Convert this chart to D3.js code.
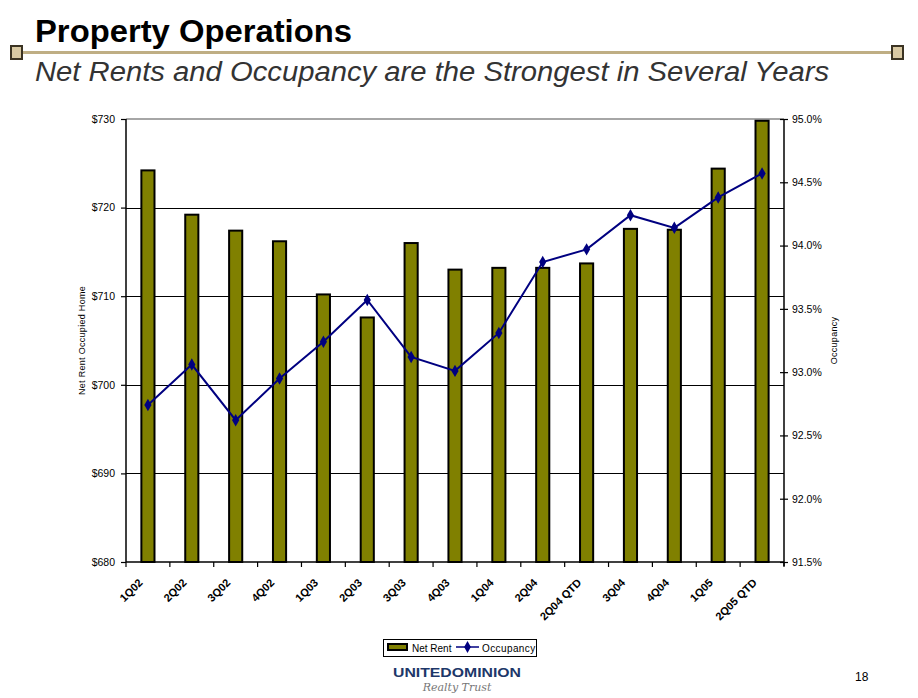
<!DOCTYPE html>
<html>
<head>
<meta charset="utf-8">
<script src="https://cdn.jsdelivr.net/npm/d3@7"></script>
<style>
  html, body { margin: 0; padding: 0; background: #fff; }
  svg { display: block; font-family: "Liberation Sans", Arial, sans-serif; }
</style>
</head>
<body>
<svg id="chart" width="918" height="698"></svg>
<script>
const categories = ["1Q02","2Q02","3Q02","4Q02","1Q03","2Q03","3Q03","4Q03","1Q04","2Q04","2Q04 QTD","3Q04","4Q04","1Q05","2Q05 QTD"];
const netRent = [724.2, 719.2, 717.4, 716.2, 710.2, 707.6, 716.0, 713.0, 713.2, 713.2, 713.7, 717.6, 717.5, 724.4, 729.8];
const occupancy = [92.74, 93.06, 92.62, 92.95, 93.24, 93.57, 93.12, 93.01, 93.31, 93.87, 93.97, 94.24, 94.14, 94.38, 94.57];
const leftTicks = [680, 690, 700, 710, 720, 730];
const rightTicks = [91.5, 92.0, 92.5, 93.0, 93.5, 94.0, 94.5, 95.0];

const svg = d3.select("#chart");
const L = 126, R = 784, T = 119, B = 562;
const olive = "#808000", navy = "#000080";

// Header
svg.append("line").attr("x1", 12).attr("x2", 904).attr("y1", 52.5).attr("y2", 52.5)
  .attr("stroke", "#bfae84").attr("stroke-width", 3);
[[11, 46], [892, 46]].forEach(([sx, sy]) => {
  svg.append("rect").attr("x", sx).attr("y", sy).attr("width", 11).attr("height", 13)
    .attr("fill", "#d9c9a3").attr("stroke", "#3b3323").attr("stroke-width", 2);
});
svg.append("text").attr("x", 35).attr("y", 42).attr("font-size", 32).attr("font-weight", "bold")
  .attr("fill", "#000").attr("textLength", 317).attr("lengthAdjust", "spacingAndGlyphs")
  .text("Property Operations");
svg.append("text").attr("x", 35).attr("y", 81).attr("font-size", 27).attr("font-style", "italic")
  .attr("fill", "#333").attr("textLength", 794).attr("lengthAdjust", "spacingAndGlyphs")
  .text("Net Rents and Occupancy are the Strongest in Several Years");

// Scales
const x = d3.scaleBand().domain(categories).range([L, R]).paddingInner(0).paddingOuter(0);
const yL = d3.scaleLinear().domain([680, 730]).range([B, T]);
const yR = d3.scaleLinear().domain([91.5, 95.0]).range([B, T]);

// Gridlines
svg.append("g").selectAll("line").data(leftTicks.filter(d => d > 680 && d < 730)).join("line")
  .attr("x1", L).attr("x2", R).attr("y1", d => Math.round(yL(d)) + 0.5).attr("y2", d => Math.round(yL(d)) + 0.5)
  .attr("stroke", "#000").attr("stroke-width", 1.2);
svg.append("line").attr("x1", L).attr("x2", R).attr("y1", yL(730)).attr("y2", yL(730))
  .attr("stroke", "#888").attr("stroke-width", 1.5);

// Bars
const bw = x.bandwidth() / 3;
svg.append("g").selectAll("rect").data(categories).join("rect")
  .attr("x", (d) => x(d) + x.bandwidth() / 2 - (bw - 1.5) / 2)
  .attr("y", (d, i) => yL(netRent[i]))
  .attr("width", bw - 1.5)
  .attr("height", (d, i) => yL(680) - yL(netRent[i]))
  .attr("fill", olive).attr("stroke", "#000").attr("stroke-width", 2);

// Axis lines
svg.append("line").attr("x1", L).attr("x2", L).attr("y1", T).attr("y2", B).attr("stroke", "#000").attr("stroke-width", 1.5);
svg.append("line").attr("x1", R).attr("x2", R).attr("y1", T).attr("y2", B + 4).attr("stroke", "#000").attr("stroke-width", 1.5);
svg.append("line").attr("x1", L).attr("x2", R).attr("y1", B).attr("y2", B).attr("stroke", "#000").attr("stroke-width", 1.5);

// Left axis
const gl = svg.append("g").attr("transform", `translate(${L},0)`)
  .call(d3.axisLeft(yL).tickValues(leftTicks).tickSize(5).tickPadding(6).tickFormat(d => "$" + d));
gl.select(".domain").remove();
gl.selectAll("line").attr("stroke", "#000").attr("stroke-width", 1.2);
gl.selectAll("text").attr("font-size", 10.5).attr("font-family", "Liberation Sans, Arial, sans-serif").attr("fill", "#000");

// Right axis
const gr = svg.append("g").attr("transform", `translate(${R},0)`)
  .call(d3.axisRight(yR).tickValues(rightTicks).tickSize(4).tickPadding(4).tickFormat(d => d.toFixed(1) + "%"));
gr.select(".domain").remove();
gr.selectAll("line").attr("x1", -4).attr("x2", 4).attr("stroke", "#000").attr("stroke-width", 1.2);
gr.selectAll("text").attr("font-size", 10.5).attr("font-family", "Liberation Sans, Arial, sans-serif").attr("fill", "#000");

// Bottom ticks
const boundaries = categories.map(d => x(d)).concat([R]);
svg.append("g").selectAll("line").data(boundaries).join("line")
  .attr("x1", d => d).attr("x2", d => d).attr("y1", B).attr("y2", B + 5)
  .attr("stroke", "#000").attr("stroke-width", 1.2);

// X labels
svg.append("g").selectAll("text").data(categories).join("text")
  .attr("transform", d => `translate(${x(d) + x.bandwidth() / 2 - 10},${B + 16}) rotate(-45)`)
  .attr("text-anchor", "end").attr("dy", "0.7em")
  .attr("font-size", 11).attr("font-weight", "bold").attr("fill", "#000")
  .text(d => d);

// Occupancy line
const line = d3.line().x((d, i) => x(categories[i]) + x.bandwidth() / 2).y(d => yR(d));
svg.append("path").datum(occupancy).attr("d", line)
  .attr("fill", "none").attr("stroke", navy).attr("stroke-width", 2);
svg.append("g").selectAll("path").data(occupancy).join("path")
  .attr("transform", (d, i) => `translate(${x(categories[i]) + x.bandwidth() / 2},${yR(d)})`)
  .attr("d", d3.symbol().type(d3.symbolDiamond).size(45))
  .attr("fill", navy);

// Axis titles
svg.append("text").attr("transform", `translate(85,${(T + B) / 2}) rotate(-90)`)
  .attr("text-anchor", "middle").attr("font-size", 9).attr("fill", "#000")
  .attr("letter-spacing", 0.3).text("Net Rent Occupied Home");
svg.append("text").attr("transform", `translate(837,${(T + B) / 2}) rotate(-90)`)
  .attr("text-anchor", "middle").attr("font-size", 9).attr("fill", "#000")
  .attr("letter-spacing", 0.3).text("Occupancy");

// Legend
const lg = svg.append("g");
lg.append("rect").attr("x", 383.5).attr("y", 639.5).attr("width", 153).attr("height", 17)
  .attr("fill", "#fff").attr("stroke", "#000").attr("stroke-width", 1);
lg.append("rect").attr("x", 388).attr("y", 644).attr("width", 19).attr("height", 6)
  .attr("fill", olive).attr("stroke", "#000").attr("stroke-width", 2);
lg.append("text").attr("x", 412).attr("y", 651.5).attr("font-size", 10).attr("fill", "#000").text("Net Rent");
lg.append("line").attr("x1", 456).attr("x2", 479).attr("y1", 647).attr("y2", 647)
  .attr("stroke", navy).attr("stroke-width", 1.5);
lg.append("path").attr("transform", "translate(467.5,647)")
  .attr("d", d3.symbol().type(d3.symbolDiamond).size(40)).attr("fill", navy);
lg.append("text").attr("x", 482).attr("y", 651.5).attr("font-size", 10).attr("fill", "#000")
  .attr("letter-spacing", 0.4).text("Occupancy");

// Logo
svg.append("text").attr("x", 457).attr("y", 677).attr("text-anchor", "middle")
  .attr("font-size", 13).attr("font-weight", "bold").attr("fill", "#1d3769")
  .attr("textLength", 128).attr("lengthAdjust", "spacingAndGlyphs").text("UNITEDOMINION");
svg.append("text").attr("x", 457).attr("y", 691).attr("text-anchor", "middle")
  .attr("font-size", 11).attr("font-style", "italic").attr("fill", "#777")
  .attr("font-family", "DejaVu Serif, serif").text("Realty Trust");

// Page number
svg.append("text").attr("x", 855).attr("y", 681).attr("font-size", 12).attr("fill", "#000").text("18");
</script>
</body>
</html>
